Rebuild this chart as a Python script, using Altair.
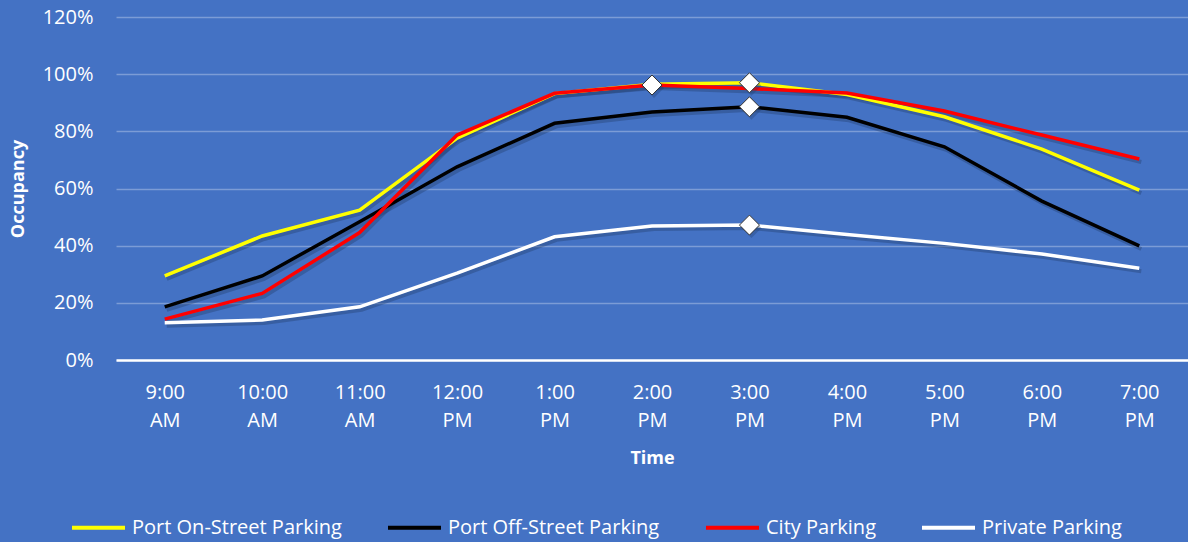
import altair as alt
import pandas as pd

times = ["9:00 AM", "10:00 AM", "11:00 AM", "12:00 PM", "1:00 PM", "2:00 PM",
         "3:00 PM", "4:00 PM", "5:00 PM", "6:00 PM", "7:00 PM"]
series_names = ["Port On-Street Parking", "Port Off-Street Parking",
                "City Parking", "Private Parking"]
series_colors = ["#FFFF00", "#000000", "#FF0000", "#FFFFFF"]

on_street = [29.4, 43.4, 52.4, 77.6, 93.2, 96.5, 97.0, 92.9, 85.1, 73.8, 59.4]
off_street = [18.6, 29.4, 48.4, 67.6, 82.8, 86.8, 88.6, 84.9, 74.6, 55.6, 39.9]
city = [14.3, 23.3, 44.6, 78.7, 93.3, 96.2, 95.0, 93.4, 87.1, 78.7, 70.3]
private = [13.0, 14.0, 18.6, 30.4, 43.1, 46.9, 47.2, 43.9, 40.8, 37.1, 32.1]

all_values = [on_street, off_street, city, private]
draw_order = [3, 1, 0, 2]  # private, off-street, on-street, city (red on top)

rows = []
for k in draw_order:
    for t, v in zip(times, all_values[k]):
        rows.append({"time": t, "series": series_names[k], "value": v / 100.0})
df = pd.DataFrame(rows)

FONT = "Open Sans"

x_enc = alt.X(
    "time:N",
    sort=times,
    scale=alt.Scale(type="point", padding=0.5),
    axis=alt.Axis(
        title="Time",
        labelExpr="split(datum.label, ' ')",
        labelAngle=0,
        labelFontSize=20,
        labelColor="white",
        labelPadding=22,
        labelLineHeight=28,
        ticks=False,
        grid=False,
        domainColor="white",
        domainWidth=2.5,
        titleFontSize=18,
        titleFontWeight="bold",
        titleColor="white",
        titleY=98,
        titleBaseline="middle",
    ),
)

y_enc = alt.Y(
    "value:Q",
    scale=alt.Scale(domain=[0, 1.2], nice=False),
    axis=alt.Axis(
        title="Occupancy",
        format=".0%",
        values=[0, 0.2, 0.4, 0.6, 0.8, 1.0, 1.2],
        labelFontSize=20,
        labelColor="white",
        labelPadding=23,
        ticks=False,
        domain=False,
        gridColor="white",
        gridOpacity=0.3,
        gridWidth=1.5,
        titleFontSize=18,
        titleFontWeight="bold",
        titleColor="white",
        titleX=-98,
        titleY=171.5,
        titleAngle=270,
        titleAlign="center",
        titleBaseline="middle",
    ),
)

base = alt.Chart(df)

shadow = base.mark_line(
    strokeWidth=4, color="#1F3864", opacity=0.35, xOffset=2, yOffset=3
).encode(x=x_enc, y=y_enc, detail="series:N")

lines = base.mark_line(strokeWidth=3.5).encode(
    x=x_enc,
    y=y_enc,
    color=alt.Color(
        "series:N",
        scale=alt.Scale(domain=series_names, range=series_colors),
        legend=alt.Legend(
            title=None,
            orient="none",
            legendX=-46,
            legendY=482,
            direction="horizontal",
            columns=4,
            symbolType="stroke",
            symbolSize=2809,
            symbolStrokeWidth=4,
            labelFontSize=20,
            labelColor="white",
            labelOffset=5,
            columnPadding=38,
            labelLimit=400,
        ),
    ),
)

peaks = base.transform_joinaggregate(
    mx="max(value)", groupby=["series"]
).transform_filter("datum.value == datum.mx")

peak_shadow = peaks.mark_point(
    shape="diamond", filled=True, color="#1F3864", opacity=0.3, size=400,
    xOffset=2, yOffset=3
).encode(x=x_enc, y=y_enc)

markers = peaks.mark_point(
    shape="diamond", filled=True, fill="white", stroke="#333333",
    strokeWidth=1, size=400, opacity=1
).encode(x=x_enc, y=y_enc)

chart = alt.layer(shadow, lines, peak_shadow, markers).properties(
    width=1072,
    height=343,
    autosize=alt.AutoSizeParams(type="none"),
    padding={"left": 116, "top": 17, "right": 0, "bottom": 182},
    background="#4472C4",
).configure(font=FONT).configure_view(
    strokeWidth=0, strokeOpacity=0
).configure_axisY(domain=False)

chart.save("out.html", embed_options={"renderer": "svg", "actions": False})
